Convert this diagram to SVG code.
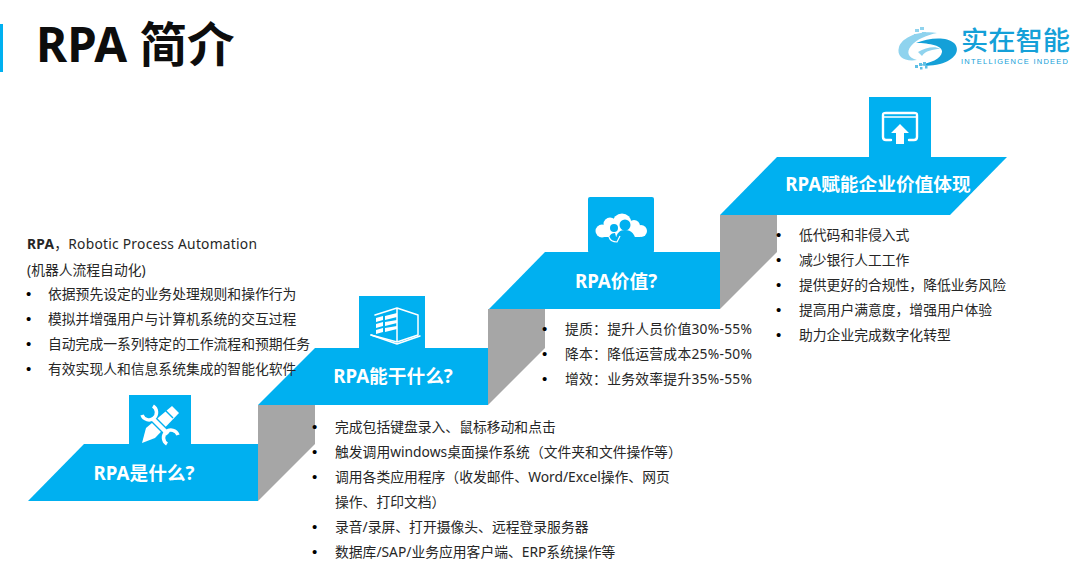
<svg xmlns="http://www.w3.org/2000/svg" width="1080" height="566" viewBox="0 0 1080 566">
<style>
text{font-family:"Noto Sans","Noto Sans CJK SC",sans-serif}
.step{fill:#00b0f0}
.riser{fill:#a6a6a6}
.lbl{fill:#fff;font-size:18.700px;font-weight:700;text-anchor:middle}
.t{fill:#262626;font-size:13.800px}
.b{fill:#000;font-size:15px;font-family:"Liberation Sans",sans-serif}
.ic{fill:#fff}
.il{fill:none;stroke:#fff;stroke-width:2.400;stroke-linecap:round;stroke-linejoin:round}
</style>
<rect width="1080" height="566" fill="#fff"/>
<g id="title">
<rect x="0" y="24" width="3" height="48" fill="#00b0f0"/>
<text x="36" y="62" font-size="47.500" font-weight="700" fill="#0d0d0d">RPA 简介</text>
</g>
<g id="logo">
<path d="M937 33C918 30 902 38 899 47C896 57 905 62 917 60C908 58 906 52 911 46C917 39 927 35 937 33Z" fill="#8fd3ee"/>
<path d="M916 43C928 38 946 36 954 43C961 50 955 60 940 64C932 66 925 66 920 65C930 63 941 59 942 52C943 46 930 43 916 43Z" fill="#14a0d8"/>
<path d="M918 52C926 47 936 46 940 49C933 49 925 51 922 56Z" fill="#8fd3ee"/>
<g fill="#8fd3ee"><rect x="915" y="29" width="4" height="3"/><rect x="920" y="27" width="4" height="3"/><rect x="922" y="32" width="4" height="3"/><rect x="914" y="34" width="4" height="3"/></g>
<g fill="#5fbfe5"><rect x="923" y="62" width="3" height="3"/><rect x="919" y="63" width="3" height="3"/><rect x="915" y="65" width="3" height="3"/><rect x="920" y="67" width="2.500" height="2.500"/><rect x="925" y="66" width="2.500" height="2.500"/></g>
<text x="961" y="50" font-size="26" font-weight="500" fill="#14a0d8" textLength="109" lengthAdjust="spacingAndGlyphs">实在智能</text>
<text x="961" y="63.500" font-size="7.500" fill="#14a0d8" style="font-family:'Liberation Sans',sans-serif" textLength="107">INTELLIGENCE INDEED</text>
</g>
<g id="connectors">
<path class="riser" d="M258 405H315V444L258 501Z"/>
<path class="riser" d="M488 309H545V348L488 405Z"/>
<path class="riser" d="M720 215H777V252L720 309Z"/>
</g>
<g id="step-1">
<rect class="step" x="129" y="395" width="62" height="50"/>
<path class="step" d="M84 444H258V501H28Z"/>
<g class="icon">
<path class="ic" d="M142 443L146 428L172 406L179 413L155 438Z"/>
<path d="M165 410L173 418" stroke="#00b0f0" stroke-width="1.500"/>
<path d="M152 418L168 434" fill="none" stroke="#00b0f0" stroke-width="7"/>
<path d="M153 406A7.500 7.500 0 1 1 142 415" fill="none" stroke="#00b0f0" stroke-width="5.500"/>
<path d="M178 435A7.500 7.500 0 1 0 167 444" fill="none" stroke="#00b0f0" stroke-width="5.500"/>
<path d="M152 418L168 434" fill="none" stroke="#fff" stroke-width="4.500"/>
<path d="M153 406A7.500 7.500 0 1 1 142 415" fill="none" stroke="#fff" stroke-width="3.500"/>
<path d="M178 435A7.500 7.500 0 1 0 167 444" fill="none" stroke="#fff" stroke-width="3.500"/>
</g>
<text class="lbl" x="144" y="480">RPA是什么?</text>
</g>
<g id="step-2">
<rect class="step" x="359" y="296" width="66" height="53"/>
<path class="step" d="M315 348H488V405H258Z"/>
<g class="icon">
<path class="il" style="stroke-width:1.500" d="M375 315L397 308L418 315V335L397 342L371 335M397 308V342"/>
<path class="il" style="stroke-width:1.500" d="M371 335L397 344L420 336"/>
<path class="ic" d="M376 318L383 316V320L376 322ZM385 316L397 313V317L385 320ZM376 324L383 322V326L376 328ZM385 322L397 320V323L385 326ZM376 330L383 328V332L376 334ZM385 328L397 326V329L385 332Z"/>
</g>
<text class="lbl" x="393" y="383">RPA能干什么?</text>
</g>
<g id="step-3">
<rect class="step" x="588" y="197" width="66" height="56" rx="2"/>
<path class="step" d="M545 252H720V309H489Z"/>
<g class="icon">
<g class="ic"><circle cx="602" cy="231" r="6.500"/><circle cx="610" cy="224" r="6.500"/><circle cx="622" cy="223" r="9.500"/><circle cx="634" cy="226" r="6"/><circle cx="641" cy="231" r="6"/><rect x="602" y="226" width="38" height="11"/></g>
<g fill="#00b0f0"><circle cx="625" cy="225" r="5.500"/><path d="M616 240C616 233 620 230 625 230C631 230 636 234 636 244H616Z"/><circle cx="614" cy="228" r="4"/><path d="M608 244C608 236 611 233 615 233L618 244Z"/></g>
<path d="M609 237C610 240 613 242 617 242L620 236" fill="none" stroke="#fff" stroke-width="1.200"/>
</g>
<text class="lbl" x="616" y="288">RPA价值?</text>
</g>
<g id="step-4">
<rect class="step" x="869" y="97" width="62" height="61"/>
<path class="step" d="M777 157H1007L950 215H720Z"/>
<g class="icon">
<path class="il" d="M891 140H886C884 140 883 139 883 137V115C883 113 884 113 886 113H914C916 113 917 113 917 115V137C917 139 916 140 914 140H909"/>
<path class="il" style="stroke-width:1.500" d="M883 117H917"/>
<path class="ic" d="M900 124L909 133H904V144H896V133H891Z"/>
</g>
<text class="lbl" x="878" y="191">RPA赋能企业价值体现</text>
</g>
<g id="list-1">
<text class="t" x="27" y="249" textLength="230"><tspan font-weight="700">RPA</tspan>，Robotic Process Automation</text>
<text class="t" x="27" y="275">(机器人流程自动化)</text>
<text class="b" x="26" y="299">•</text><text class="t" x="48" y="299">依据预先设定的业务处理规则和操作行为</text>
<text class="b" x="26" y="324">•</text><text class="t" x="48" y="324">模拟并增强用户与计算机系统的交互过程</text>
<text class="b" x="26" y="349">•</text><text class="t" x="48" y="349">自动完成一系列特定的工作流程和预期任务</text>
<text class="b" x="26" y="374">•</text><text class="t" x="48" y="374">有效实现人和信息系统集成的智能化软件</text>
</g>
<g id="list-2">
<text class="b" x="312" y="432">•</text><text class="t" x="335" y="432">完成包括键盘录入、鼠标移动和点击</text>
<text class="b" x="312" y="457">•</text><text class="t" x="335" y="457">触发调用windows桌面操作系统（文件夹和文件操作等）</text>
<text class="b" x="312" y="482">•</text><text class="t" x="335" y="482">调用各类应用程序（收发邮件、Word/Excel操作、网页</text>
<text class="t" x="335" y="507">操作、打印文档）</text>
<text class="b" x="312" y="532">•</text><text class="t" x="335" y="532">录音/录屏、打开摄像头、远程登录服务器</text>
<text class="b" x="312" y="557">•</text><text class="t" x="335" y="557">数据库/SAP/业务应用客户端、ERP系统操作等</text>
</g>
<g id="list-3">
<text class="b" x="542" y="334">•</text><text class="t" x="565" y="334" textLength="187">提质：提升人员价值30%-55%</text>
<text class="b" x="542" y="359">•</text><text class="t" x="565" y="359" textLength="187">降本：降低运营成本25%-50%</text>
<text class="b" x="542" y="384">•</text><text class="t" x="565" y="384" textLength="187">增效：业务效率提升35%-55%</text>
</g>
<g id="list-4">
<text class="b" x="776" y="240">•</text><text class="t" x="799" y="240">低代码和非侵入式</text>
<text class="b" x="776" y="265">•</text><text class="t" x="799" y="265">减少银行人工工作</text>
<text class="b" x="776" y="290">•</text><text class="t" x="799" y="290">提供更好的合规性，降低业务风险</text>
<text class="b" x="776" y="315">•</text><text class="t" x="799" y="315">提高用户满意度，增强用户体验</text>
<text class="b" x="776" y="340">•</text><text class="t" x="799" y="340">助力企业完成数字化转型</text>
</g>
</svg>
